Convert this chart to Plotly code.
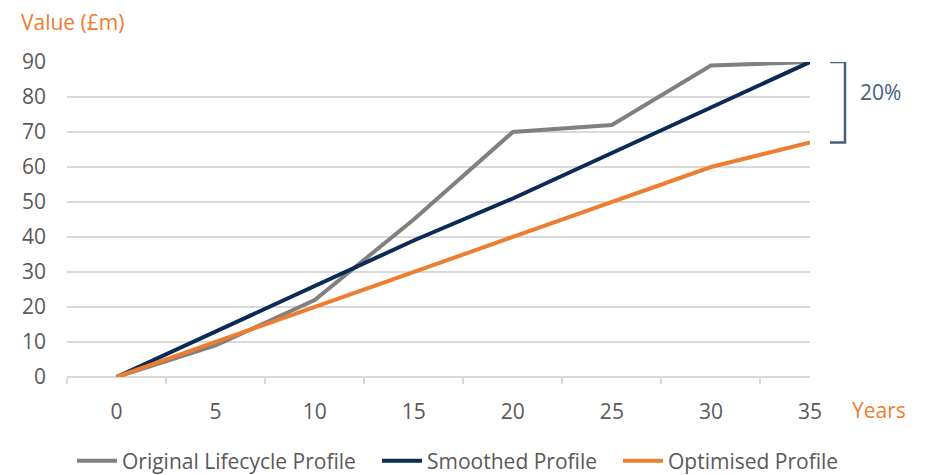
import plotly.graph_objects as go

years = [0, 5, 10, 15, 20, 25, 30, 35]
original = [0, 9, 22, 45, 70, 72, 89, 90]
smoothed = [0, 13, 26, 39, 51, 64, 77, 90]
optimised = [0, 10, 20, 30, 40, 50, 60, 67]
y_ticks = [0, 10, 20, 30, 40, 50, 60, 70, 80, 90]
bracket_label = "20%"

FONT = "Open Sans"
FS = 21
GRID = "#d9d9d9"
TXT = "#595959"
ORANGE = "#ED7D31"
NAVY = "#0b2a55"
GRAY = "#808080"
STEEL = "#44607f"

L, T = 59, 54
PW = 743.0  # plot width px
PH = 315.0  # plot height px


def px_x(page_x):
    return (page_x - 8 - L) / PW


fig = go.Figure()
fig.add_trace(go.Scatter(x=years, y=original, mode="lines", name="Original Lifecycle Profile",
                         line=dict(color=GRAY, width=4), legend="legend"))
fig.add_trace(go.Scatter(x=years, y=smoothed, mode="lines", name="Smoothed Profile",
                         line=dict(color=NAVY, width=4), legend="legend2"))
fig.add_trace(go.Scatter(x=years, y=optimised, mode="lines", name="Optimised Profile",
                         line=dict(color=ORANGE, width=4), legend="legend3"))
for tr in fig.data:
    tr.cliponaxis = False

# invisible trace to host tick marks between categories
tick_pos = [y - 2.5 for y in years]
fig.add_trace(go.Scatter(x=tick_pos, y=[None] * len(tick_pos), xaxis="x2", showlegend=False,
                         hoverinfo="skip"))

leg_common = dict(orientation="h", xanchor="left", y=-84 / PH, yanchor="middle",
                  font=dict(size=FS, color=TXT), itemwidth=40, bgcolor="rgba(0,0,0,0)")

fig.update_layout(
    width=918, height=467,
    margin=dict(l=L, r=116, t=T, b=98, autoexpand=False),
    paper_bgcolor="white", plot_bgcolor="white",
    font=dict(family=FONT, size=FS, color=TXT),
    showlegend=True,
    legend=dict(x=px_x(122 - 50), **leg_common),
    legend2=dict(x=px_x(427 - 50), **leg_common),
    legend3=dict(x=px_x(668 - 50), **leg_common),
    xaxis=dict(range=[-2.5, 35], tickvals=years, ticktext=[str(v) for v in years],
               showgrid=False, zeroline=False, showline=False, ticks="", automargin=False,
               ticklabelstandoff=20, tickfont=dict(size=FS, color=TXT)),
    xaxis2=dict(range=[-2.5, 35], overlaying="x", tickvals=tick_pos, showticklabels=False,
                ticks="outside", ticklen=6, tickwidth=1.5, tickcolor=GRID, automargin=False,
                showline=False, showgrid=False, zeroline=False, side="bottom"),
    yaxis=dict(range=[0, 90], tickvals=y_ticks, showgrid=True, gridcolor=GRID, gridwidth=1.5,
               zeroline=True, zerolinecolor=GRID, zerolinewidth=1.5, showline=False,
               ticks="", automargin=False, ticklabelstandoff=20,
               tickfont=dict(size=FS, color=TXT)),
)

fig.add_annotation(text="Value (£m)", xref="paper", yref="paper", x=-47 / PW, xanchor="left",
                   y=1 + 40 / PH, yanchor="middle", showarrow=False, borderpad=0,
                   font=dict(size=FS, color=ORANGE, family=FONT))
fig.add_annotation(text="Years", xref="paper", yref="paper", x=1 + 40 / PW, xanchor="left",
                   y=-33 / PH, yanchor="middle", showarrow=False,
                   font=dict(size=FS, color=ORANGE, family=FONT))

# bracket between smoothed and optimised end values
fig.add_shape(type="path", xref="paper", yref="y",
              path=f"M {1 + 20 / PW},{smoothed[-1]} L {1 + 35 / PW},{smoothed[-1]} "
                   f"L {1 + 35 / PW},{optimised[-1]} L {1 + 20 / PW},{optimised[-1]}",
              line=dict(color=STEEL, width=2.5))
fig.add_annotation(text=bracket_label, xref="paper", yref="y", x=1 + 48 / PW, xanchor="left",
                   y=(smoothed[-1] + optimised[-1]) / 2 + 3, yanchor="middle", showarrow=False,
                   font=dict(size=FS, color=STEEL, family=FONT))

fig.write_html("out.html")
